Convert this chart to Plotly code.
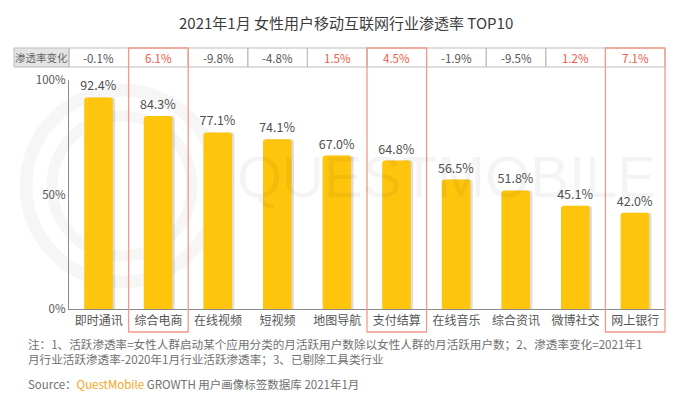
import plotly.graph_objects as go

categories = ["即时通讯", "综合电商", "在线视频", "短视频", "地图导航",
              "支付结算", "在线音乐", "综合资讯", "微博社交", "网上银行"]
penetration = [92.4, 84.3, 77.1, 74.1, 67.0, 64.8, 56.5, 51.8, 45.1, 42.0]
change = [-0.1, 6.1, -9.8, -4.8, 1.5, 4.5, -1.9, -9.5, 1.2, 7.1]
highlight = ["综合电商", "支付结算", "网上银行"]
y_ticks = [0, 50, 100]
y_ticktext = ["0%", "50%", "100%"]

FONT = "Noto Sans CJK SC, Noto Sans, sans-serif"
W, H = 693, 397
L, R, T, B = 69, 28, 80, 88
ph = H - T - B
pw = W - L - R
n = len(categories)


def py(pix):
    return (H - B - pix) / ph


def px(pix):
    return (pix - L) / pw


fig = go.Figure()

# shadow
fig.add_trace(go.Bar(
    x=categories, y=penetration, width=0.48, offset=-0.205,
    marker=dict(color="rgba(0,0,0,0.13)", line=dict(width=0)),
    hoverinfo="skip", showlegend=False,
))
fig.add_trace(go.Bar(
    x=categories, y=penetration, width=0.48, offset=-0.245,
    marker=dict(color="#FEC50C", line=dict(width=0)),
    texttemplate="%{y:.1f}%", textposition="outside", constraintext="none",
    textfont=dict(family=FONT, size=12.5, color="#505050"),
    cliponaxis=False, showlegend=False,
))

shapes = []
annotations = []


def ann(text, x, y, size, color, xanchor="center", family=FONT):
    annotations.append(dict(text=text, xref="paper", yref="paper", x=x, y=y,
                            xanchor=xanchor, yanchor="middle", showarrow=False,
                            font=dict(family=family, size=size, color=color)))


# watermark circles
for r, wdt in [(96, 13), (70, 11)]:
    cx, cy = 122, 186
    shapes.append(dict(type="circle", xref="paper", yref="paper", layer="below",
                       x0=px(cx - r), x1=px(cx + r), y0=py(cy + r), y1=py(cy - r),
                       line=dict(color="rgba(0,0,0,0.035)", width=wdt)))
ann("QUESTMOBILE", px(446), py(176), 58, "rgba(0,0,0,0.045)",
    family="Liberation Sans, Arial")

# table row
top, bot = 48, 67
shapes.append(dict(type="rect", xref="paper", yref="paper",
                   x0=px(14), x1=px(L), y0=py(bot), y1=py(top),
                   fillcolor="#E4E4E4", line=dict(color="#BDBDBD", width=1)))
ann("渗透率变化", px((14 + L) / 2), py((top + bot) / 2), 10.5, "#666666")
for i, (c, v) in enumerate(zip(categories, change)):
    x0, x1 = i / n, (i + 1) / n
    shapes.append(dict(type="rect", xref="paper", yref="paper",
                       x0=x0, x1=x1, y0=py(bot), y1=py(top),
                       line=dict(color="#BDBDBD", width=1)))
    color = "#F25A4A" if v > 0 else "#555555"
    ann(f"{v:.1f}%", (x0 + x1) / 2, py((top + bot) / 2), 11.5, color)

# highlight boxes
for i, c in enumerate(categories):
    if c in highlight:
        shapes.append(dict(type="rect", xref="paper", yref="paper",
                           x0=i / n, x1=(i + 1) / n, y0=py(332), y1=py(top),
                           line=dict(color="#F39A88", width=1.3)))

# title
ann("2021年1月 女性用户移动互联网行业渗透率 TOP10", px(346), py(23), 15, "#3C3C3C")

# notes
note1 = "注：1、活跃渗透率=女性人群启动某个应用分类的月活跃用户数除以女性人群的月活跃用户数；2、渗透率变化=2021年1"
note2 = "月行业活跃渗透率-2020年1月行业活跃渗透率；3、已剔除工具类行业"
ann(note1, px(26), py(344), 11.6, "#707070", xanchor="left")
ann(note2, px(26), py(359), 11.6, "#707070", xanchor="left")
ann("Source：<span style='color:#F5A623'>QuestMobile</span> GROWTH 用户画像标签数据库 2021年1月",
    px(26), py(384), 11.5, "#707070", xanchor="left")

fig.update_layout(
    width=W, height=H,
    margin=dict(l=L, r=R, t=T, b=B),
    paper_bgcolor="white", plot_bgcolor="rgba(0,0,0,0)",
    barmode="overlay", barcornerradius=3,
    shapes=shapes, annotations=annotations,
    xaxis=dict(type="category", range=[-0.5, n - 0.5], showline=True,
               linecolor="#8A8A8A", linewidth=1.2, ticks="", showgrid=False,
               tickfont=dict(family=FONT, size=12, color="#555555")),
    yaxis=dict(range=[0, 100], tickvals=y_ticks, ticktext=y_ticktext,
               showline=True, linecolor="#8A8A8A", linewidth=1.2, showgrid=False,
               zeroline=False, ticks="",
               tickfont=dict(family=FONT, size=11.5, color="#555555")),
    font=dict(family=FONT),
)

fig.write_html(
    "out.html",
    config={"displayModeBar": False},
    post_script="document.body.style.margin='0';document.documentElement.style.overflow='hidden';",
)
